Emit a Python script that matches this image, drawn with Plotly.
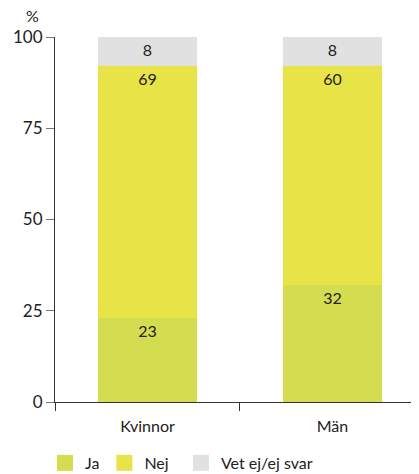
import plotly.graph_objects as go

categories = ["Kvinnor", "Män"]
ja = [23, 32]
nej = [69, 60]
vet_ej = [8, 8]
y_ticks = [0, 25, 50, 75, 100]

font_family = "Lato, Open Sans, sans-serif"
text_color = "#222222"

fig = go.Figure()
series = [("Ja", ja, "#d4dc50", "legend"), ("Nej", nej, "#e8e347", "legend"),
          ("Vet ej/ej svar", vet_ej, "#e1e1e1", "legend2")]
for name, vals, color, _ in series:
    fig.add_trace(go.Bar(
        x=categories, y=vals, name=name, marker_color=color, marker_line_width=0,
        text=[str(v) for v in vals], textposition="inside", insidetextanchor="end",
        textfont=dict(size=16, color=text_color, family=font_family),
        width=0.54, showlegend=False,
    ))
# legend entries with larger square swatches
for name, vals, color, lg in series:
    fig.add_trace(go.Scatter(
        x=[None], y=[None], mode="markers", name=name, legend=lg,
        marker=dict(symbol="square", size=18, color=color), showlegend=True,
    ))

legend_style = dict(orientation="h", xanchor="left", y=-0.167, yanchor="middle",
                    font=dict(size=16, color=text_color), traceorder="normal",
                    itemwidth=30, tracegroupgap=0, bgcolor="rgba(0,0,0,0)")

fig.update_layout(
    barmode="stack",
    width=411, height=466,
    margin=dict(l=47, r=0, t=29, b=72, autoexpand=False),
    plot_bgcolor="white", paper_bgcolor="white",
    font=dict(family=font_family, size=16, color=text_color),
    showlegend=True,
    legend=dict(x=-0.0275, **legend_style),
    legend2=dict(x=0.346, **legend_style),
    xaxis=dict(range=[-0.5, 1.468], showline=True, linecolor="#333333", linewidth=1,
               ticks="outside", tickson="boundaries", ticklen=8, tickcolor="#333333",
               ticklabelstandoff=10,
               showgrid=False, tickfont=dict(size=16, color=text_color), automargin=False),
    yaxis=dict(range=[0, 100], tickvals=y_ticks, showline=True, linecolor="#333333",
               linewidth=1, ticks="outside", ticklen=8, tickcolor="#777777",
               showgrid=False, zeroline=False, tickfont=dict(size=17, color=text_color),
               automargin=False),
    annotations=[dict(text="%", x=-0.063, y=1.06, xref="paper", yref="paper",
                      xanchor="center", yanchor="middle",
                      showarrow=False, font=dict(size=16, color=text_color))],
)

fig.write_html("out.html")
